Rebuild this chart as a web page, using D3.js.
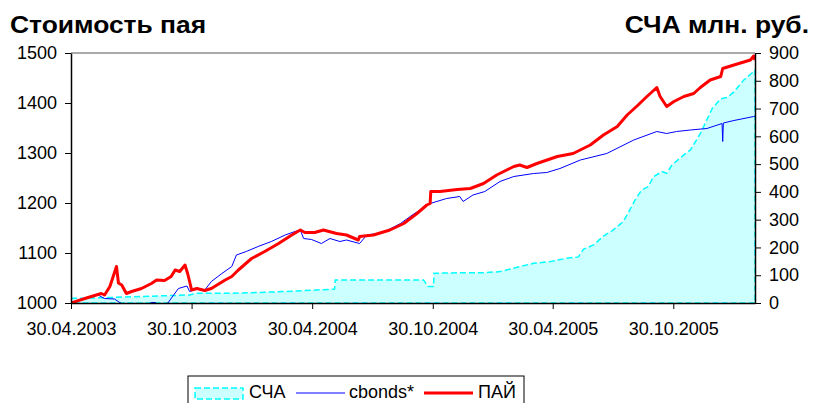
<!DOCTYPE html>
<html>
<head>
<meta charset="utf-8">
<script src="https://cdn.jsdelivr.net/npm/d3@7"></script>
<style>
  body { margin: 0; background: #fff; }
  text { font-family: "Liberation Sans", Arial, sans-serif; fill: #000; }
</style>
</head>
<body>
<svg class="svg" width="815" height="403"></svg>
<script>
// --- data ---
var paiDates = ['2003-04-30','2003-05-21','2003-06-15','2003-06-20','2003-06-28','2003-07-08','2003-07-11','2003-07-16','2003-07-23','2003-07-31',
  '2003-08-15','2003-08-30','2003-09-07','2003-09-19','2003-09-29','2003-10-05','2003-10-12','2003-10-20','2003-10-24','2003-10-27',
  '2003-10-30','2003-11-07','2003-11-19','2003-11-29','2003-12-20','2003-12-30','2004-01-09','2004-01-29','2004-02-18','2004-03-10',
  '2004-03-30','2004-04-12','2004-04-19','2004-05-04','2004-05-17','2004-06-06','2004-06-21','2004-07-09','2004-07-11','2004-08-01',
  '2004-08-26','2004-09-16','2004-10-06','2004-10-21','2004-10-26','2004-10-27','2004-11-10','2004-12-06','2004-12-26','2005-01-15',
  '2005-02-04','2005-03-02','2005-03-11','2005-03-22','2005-04-06','2005-05-07','2005-05-31','2005-06-26','2005-07-16','2005-08-06',
  '2005-08-21','2005-09-05','2005-09-20','2005-10-05','2005-10-10','2005-10-20','2005-10-31','2005-11-15','2005-11-30','2005-12-10',
  '2005-12-25','2006-01-10','2006-01-13','2006-01-30','2006-02-24','2006-03-01','2006-03-03'];
var paiValues = [1000,1009,1019,1016,1033,1073,1040,1036,1019,1023,
  1029,1039,1046,1045,1053,1066,1063,1076,1059,1043,
  1026,1029,1025,1029,1046,1053,1066,1089,1103,1119,
  1136,1146,1141,1141,1146,1139,1136,1126,1133,1136,
  1146,1159,1179,1196,1199,1223,1223,1227,1229,1239,
  1256,1273,1276,1271,1279,1293,1299,1316,1336,1353,
  1376,1394,1413,1431,1413,1393,1403,1413,1419,1431,
  1446,1453,1469,1476,1486,1494,1486];

var cbondsDates = ['2003-04-30','2003-05-16','2003-05-26','2003-06-10','2003-06-20','2003-07-05','2003-07-13','2003-07-25','2003-08-15','2003-08-30',
  '2003-09-05','2003-09-12','2003-09-24','2003-10-10','2003-10-23','2003-10-27','2003-11-09','2003-11-19','2003-11-29','2003-12-15',
  '2003-12-30','2004-01-06','2004-01-21','2004-02-08','2004-02-28','2004-03-20','2004-04-04','2004-04-12','2004-04-17','2004-04-29',
  '2004-05-14','2004-05-27','2004-06-11','2004-06-21','2004-07-11','2004-07-22','2004-08-16','2004-09-11','2004-09-30','2004-10-26',
  '2004-11-20','2004-12-10','2004-12-15','2004-12-30','2005-01-17','2005-02-09','2005-03-02','2005-04-01','2005-04-21','2005-05-11',
  '2005-06-11','2005-07-21','2005-08-31','2005-10-05','2005-10-20','2005-11-04','2005-11-25','2005-12-20','2006-01-12','2006-01-13',
  '2006-01-14','2006-01-30','2006-03-01','2006-03-03'];
var cbondsValues = [1000,1007,1011,1016,1009,1008,1001,992,990,1001,
  1001,993,1000,1029,1034,1023,1029,1026,1043,1059,
  1073,1096,1103,1113,1123,1136,1143,1146,1129,1127,
  1119,1129,1123,1126,1119,1136,1141,1159,1177,1199,
  1209,1213,1203,1216,1223,1243,1253,1259,1261,1269,
  1286,1299,1326,1343,1339,1343,1346,1349,1359,1323,
  1360,1365,1373,1373];

var schaDates = ['2003-04-30','2003-05-14','2003-07-01','2003-10-27','2003-11-06','2004-01-01','2004-03-17','2004-06-03','2004-06-04','2004-10-16',
  '2004-10-23','2004-10-31','2004-11-01','2004-12-10','2005-01-15','2005-02-09','2005-03-11','2005-04-01','2005-04-26','2005-05-21',
  '2005-06-08','2005-06-16','2005-07-01','2005-07-16','2005-07-31','2005-08-15','2005-08-25','2005-09-02','2005-09-12','2005-09-22',
  '2005-09-30','2005-10-13','2005-10-20','2005-10-28','2005-11-15','2005-11-25','2005-12-10','2005-12-20','2005-12-28','2006-01-10',
  '2006-01-20','2006-01-30','2006-02-14','2006-03-01','2006-03-03'];
var schaValues = [17,17,20,29,35,35,41,50,83,83,
  59,59,107,109,109,113,131,143,149,161,
  166,194,209,241,263,293,335,371,407,419,
  455,473,467,497,533,551,610,660,700,735,
  740,760,803,833,839];

var leftTicks = [1000,1100,1200,1300,1400,1500];
var rightTicks = [0,100,200,300,400,500,600,700,800,900];
var xTicks = ['2003-04-30','2003-10-30','2004-04-30','2004-10-30','2005-04-30','2005-10-30'];
var xStart = '2003-04-30', xEnd = '2006-03-03';

// --- setup ---
var parse = d3.timeParse('%Y-%m-%d');
var svg = d3.select('.svg');
var plotLeft = 71, plotRight = 755, plotTop = 53, plotBottom = 303;

var x = d3.scaleTime().domain([parse(xStart), parse(xEnd)]).range([plotLeft, plotRight]);
var yL = d3.scaleLinear().domain([1000, 1500]).range([plotBottom, plotTop]);
var yR = d3.scaleLinear().domain([0, 900]).range([plotBottom, plotTop]);

var pai = paiDates.map((d, i) => ({ date: parse(d), v: paiValues[i] }));
var cbonds = cbondsDates.map((d, i) => ({ date: parse(d), v: cbondsValues[i] }));
var scha = schaDates.map((d, i) => ({ date: parse(d), v: schaValues[i] }));

svg.append('clipPath').attr('id', 'plotclip')
  .append('rect').attr('x', plotLeft).attr('y', plotTop)
  .attr('width', plotRight - plotLeft).attr('height', plotBottom - plotTop);

var plot = svg.append('g').attr('clip-path', 'url(#plotclip)');

// СЧА area (right axis)
var area = d3.area().x(d => x(d.date)).y0(plotBottom).y1(d => yR(d.v));
plot.append('path').datum(scha)
  .attr('d', area)
  .attr('fill', '#CCFFFF')
  .attr('stroke', '#00FFFF')
  .attr('stroke-width', 1.5)
  .attr('stroke-dasharray', '6,3');

var lineL = d3.line().x(d => x(d.date)).y(d => yL(d.v));

plot.append('path').datum(cbonds)
  .attr('d', lineL).attr('fill', 'none')
  .attr('stroke', '#0000FF').attr('stroke-width', 1);

plot.append('path').datum(pai)
  .attr('d', lineL).attr('fill', 'none')
  .attr('stroke', '#FF0000').attr('stroke-width', 3)
  .attr('stroke-linejoin', 'round');

// top border of plot area
svg.append('line').attr('x1', plotLeft).attr('x2', plotRight).attr('y1', plotTop).attr('y2', plotTop)
  .attr('stroke', '#555').attr('stroke-width', 1);

// axes
var gL = svg.append('g').attr('transform', 'translate(' + plotLeft + ',0)')
  .call(d3.axisLeft(yL).tickValues(leftTicks).tickFormat(d3.format('d'))
    .tickSize(6).tickSizeOuter(0).tickPadding(8));
var gR = svg.append('g').attr('transform', 'translate(' + plotRight + ',0)')
  .call(d3.axisRight(yR).tickValues(rightTicks).tickFormat(d3.format('d'))
    .tickSize(6).tickSizeOuter(0).tickPadding(8));
var gX = svg.append('g').attr('transform', 'translate(0,' + plotBottom + ')')
  .call(d3.axisBottom(x).tickValues(xTicks.map(parse)).tickFormat(d3.timeFormat('%d.%m.%Y'))
    .tickSize(6).tickSizeOuter(0).tickPadding(13));

[gL, gR, gX].forEach(g => {
  g.select('.domain').attr('stroke', '#000').attr('stroke-width', 1.5);
  g.selectAll('.tick line').attr('stroke', '#000');
  g.selectAll('text').attr('font-size', 18).attr('font-family', '"Liberation Sans", Arial, sans-serif');
});

// titles
svg.append('text').attr('transform', 'translate(10,33) scale(1.1,1)')
  .attr('font-size', 24).attr('font-weight', 'bold')
  .text('Стоимость пая');
svg.append('text').attr('transform', 'translate(809,33) scale(1.1,1)').attr('text-anchor', 'end')
  .attr('font-size', 24).attr('font-weight', 'bold')
  .text('СЧА млн. руб.');

// legend
var legend = svg.append('g');
legend.append('rect').attr('x', 188).attr('y', 376).attr('width', 336).attr('height', 40)
  .attr('fill', '#fff').attr('stroke', '#000').attr('stroke-width', 1);
legend.append('rect').attr('x', 195).attr('y', 388).attr('width', 48).attr('height', 11)
  .attr('fill', '#CCFFFF').attr('stroke', '#00FFFF').attr('stroke-width', 1.5).attr('stroke-dasharray', '6,3');
legend.append('text').attr('x', 249).attr('y', 398).attr('font-size', 18).text('СЧА');
legend.append('line').attr('x1', 296).attr('x2', 345).attr('y1', 393).attr('y2', 393)
  .attr('stroke', '#0000FF').attr('stroke-width', 1);
legend.append('text').attr('x', 349).attr('y', 398).attr('font-size', 18).text('cbonds*');
legend.append('line').attr('x1', 424).attr('x2', 473).attr('y1', 393).attr('y2', 393)
  .attr('stroke', '#FF0000').attr('stroke-width', 3);
legend.append('text').attr('x', 478).attr('y', 398).attr('font-size', 18).text('ПАЙ');
</script>
</body>
</html>
